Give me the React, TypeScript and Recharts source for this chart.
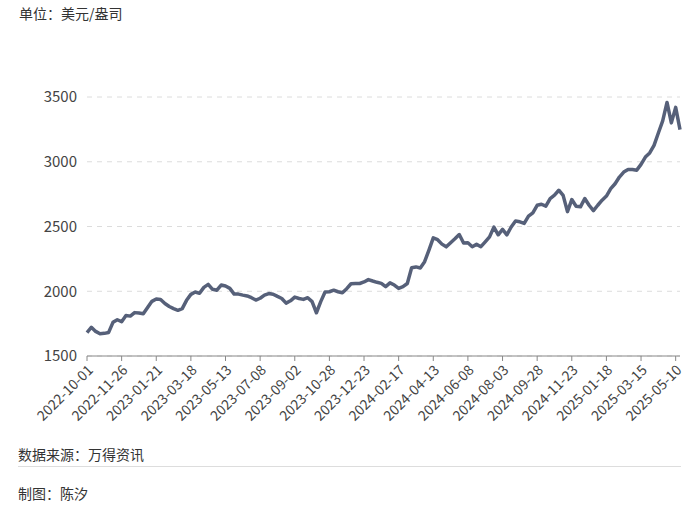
import React from 'react';
import { LineChart, Line, XAxis, YAxis, CartesianGrid } from 'recharts';

const FONT = '"Noto Sans CJK SC", "Noto Sans", sans-serif';

// weekly gold price, USD/oz, starting 2022-10-01
const prices: number[] = [
  1680, 1722, 1690, 1672, 1675, 1682, 1760, 1780, 1765, 1812,
  1808, 1835, 1832, 1826, 1875, 1922, 1940, 1936, 1905, 1882,
  1866, 1853, 1866, 1930, 1976, 1994, 1984, 2030, 2053, 2015,
  2008, 2048, 2040, 2022, 1978, 1978, 1970, 1964, 1950, 1932,
  1946, 1970, 1982, 1977, 1960, 1944, 1908, 1926, 1955, 1944,
  1937, 1950, 1920, 1834, 1920, 1994, 1996, 2008, 1996, 1988,
  2020, 2058, 2060, 2060, 2072, 2090, 2079, 2069, 2061, 2036,
  2065, 2048, 2022, 2035, 2060, 2182, 2188, 2180, 2228, 2318,
  2412, 2398, 2364, 2343, 2375, 2405, 2438, 2372, 2374, 2344,
  2362, 2344, 2382, 2420, 2495, 2436, 2478, 2436, 2496, 2542,
  2536, 2524, 2580, 2606, 2664, 2672, 2657, 2716, 2742, 2780,
  2740, 2615, 2708, 2656, 2652, 2716, 2664, 2622, 2664, 2703,
  2735, 2792, 2830, 2882, 2920, 2940, 2940, 2935, 2980, 3036,
  3068, 3126, 3222, 3315, 3458, 3300, 3420, 3248,
];

const startDate = '2022-10-01';
const yTicks: number[] = [1500, 2000, 2500, 3000, 3500];

const pad = (n: number) => (n < 10 ? '0' + n : '' + n);
const weeklyDates = (start: string, count: number): string[] => {
  const [y, m, d] = start.split('-').map(Number);
  const out: string[] = [];
  for (let i = 0; i < count; i++) {
    const dt = new Date(Date.UTC(y, m - 1, d + 7 * i));
    out.push(`${dt.getUTCFullYear()}-${pad(dt.getUTCMonth() + 1)}-${pad(dt.getUTCDate())}`);
  }
  return out;
};

const dates = weeklyDates(startDate, prices.length);
const data = dates.map((date, i) => ({ date, price: prices[i] }));

const XTick = (props: any) => {
  const { x, y, payload } = props;
  return (
    <g transform={`translate(${x + 1},${y + 2})`}>
      <text
        textAnchor="end"
        transform="rotate(-45)"
        dy="0.6em"
        fontSize={14}
        fill="#444"
        fontFamily={FONT}
      >
        {payload.value}
      </text>
    </g>
  );
};

const YTick = (props: any) => {
  const { y, payload } = props;
  return (
    <text x={77} y={y} dy="0.36em" textAnchor="end" fontSize={15} fill="#444" fontFamily={FONT}>
      {payload.value}
    </text>
  );
};

export default function App() {
  return (
    <div
      style={{
        position: 'absolute',
        left: 0,
        top: 0,
        width: 700,
        height: 505,
        background: '#fff',
        fontFamily: FONT,
        color: '#333',
      }}
    >
      <div style={{ position: 'absolute', left: 19, top: 4, fontSize: 14, lineHeight: '18px' }}>
        单位：美元/盎司
      </div>
      <div style={{ position: 'absolute', left: 0, top: 0 }}>
        <LineChart
          width={700}
          height={505}
          data={data}
          margin={{ top: 97, right: 20, left: 0, bottom: 89 }}
        >
          <CartesianGrid horizontal vertical={false} stroke="#dcdcdc" strokeDasharray="5 5" />
          <XAxis
            dataKey="date"
            interval={7}
            height={60}
            tick={<XTick />}
            tickSize={5}
            axisLine={{ stroke: '#888' }}
            tickLine={{ stroke: '#888' }}
          />
          <YAxis
            domain={[1500, 3500]}
            ticks={yTicks}
            width={87}
            axisLine={false}
            tickLine={false}
            tick={<YTick />}
          />
          <Line
            type="linear"
            dataKey="price"
            stroke="#566079"
            strokeWidth={3.5}
            dot={false}
            strokeLinejoin="round"
            isAnimationActive={false}
          />
        </LineChart>
      </div>
      <div style={{ position: 'absolute', left: 18, top: 445, fontSize: 14, lineHeight: '18px' }}>
        数据来源：万得资讯
      </div>
      <div style={{ position: 'absolute', left: 18, top: 466, width: 663, height: 1, background: '#ddd' }} />
      <div style={{ position: 'absolute', left: 18, top: 484, fontSize: 14, lineHeight: '18px' }}>
        制图：陈汐
      </div>
    </div>
  );
}
